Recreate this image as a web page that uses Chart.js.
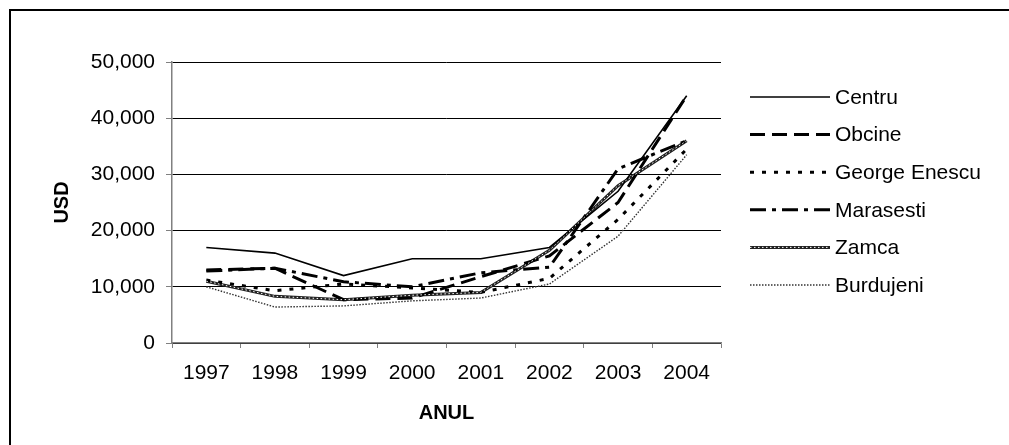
<!DOCTYPE html>
<html>
<head>
<meta charset="utf-8">
<script src="https://cdn.jsdelivr.net/npm/chart.js@4.4.1/dist/chart.umd.min.js"></script>
<style>
html,body{margin:0;padding:0;background:#fff;}
#wrap{position:relative;width:1009px;height:445px;}
</style>
</head>
<body>
<div id="wrap"><canvas id="c" width="1009" height="445"></canvas></div>
<script>
const years = ['1997','1998','1999','2000','2001','2002','2003','2004'];
const centru = [17000, 16000, 12000, 15000, 15000, 17000, 27000, 44000];
const obcine = [13000, 13300, 7700, 8000, 11800, 15500, 25000, 44000];
const georgeEnescu = [11200, 9300, 10500, 9800, 9000, 11500, 22000, 34500];
const marasesti = [12800, 13300, 10900, 10000, 12500, 13500, 31000, 36000];
const zamca = [11000, 8300, 7700, 8500, 9000, 16500, 28000, 36000];
const burdujeni = [10000, 6400, 6600, 7500, 8000, 10500, 19000, 33500];
const seriesNames = ['Centru','Obcine','George Enescu','Marasesti','Zamca','Burdujeni'];
const yTicks = [0, 10000, 20000, 30000, 40000, 50000];

const FONT = "'Liberation Sans', Arial, sans-serif";
const FS = 21;

const styles = [
  {c:'#000', w:1.6, d:[]},
  {c:'#000', w:3, d:[15,7]},
  {c:'#000', w:3, d:[4,8]},
  {c:'#000', w:3, d:[16,6,4,6]},
  {c:'#222', w:3, d:[]},
  {c:'#333', w:1.4, d:[1.5,1.5]}
];
const seriesData = [centru, obcine, georgeEnescu, marasesti, zamca, burdujeni];

const datasets = seriesNames.map((n,i)=>({
  label:n, data:seriesData[i], borderColor:styles[i].c, borderWidth:styles[i].w,
  borderDash:styles[i].d, pointRadius:0, fill:false, tension:0,
  borderCapStyle:'butt', borderJoinStyle:'miter'
}));

const decor = {
  id:'decor',
  afterDatasetsDraw(chart){
    const ctx = chart.ctx;
    const zi = seriesNames.indexOf('Zamca');
    const meta = chart.getDatasetMeta(zi);
    ctx.save();
    ctx.beginPath();
    meta.data.forEach((p,k)=>{ if(k===0) ctx.moveTo(p.x,p.y); else ctx.lineTo(p.x,p.y); });
    ctx.strokeStyle='#fff'; ctx.lineWidth=1; ctx.setLineDash([1.5,2.5]); ctx.stroke();
    ctx.restore();
  },
  afterDraw(chart){
    const ctx = chart.ctx;
    ctx.save();
    ctx.strokeStyle='#000'; ctx.lineWidth=2; ctx.setLineDash([]);
    ctx.strokeRect(10,10,1010,445);
    const x0=750, x1=830, tx=835, y0=97, dy=37.6;
    ctx.font = FS + "px " + FONT;
    ctx.textBaseline='middle'; ctx.textAlign='left';
    chart.data.datasets.forEach((ds,i)=>{
      const y = y0 + i*dy;
      ctx.beginPath(); ctx.moveTo(x0,y); ctx.lineTo(x1,y);
      ctx.strokeStyle=ds.borderColor; ctx.lineWidth=ds.borderWidth; ctx.lineCap='butt';
      ctx.setLineDash(ds.borderDash||[]); ctx.stroke();
      if(ds.label==='Zamca'){
        ctx.beginPath(); ctx.moveTo(x0,y); ctx.lineTo(x1,y);
        ctx.strokeStyle='#fff'; ctx.lineWidth=1; ctx.setLineDash([1.5,2.5]); ctx.stroke();
      }
      ctx.setLineDash([]);
      ctx.fillStyle='#000';
      ctx.fillText(ds.label, tx, y+1);
    });
    ctx.restore();
  }
};

new Chart(document.getElementById('c'), {
  type:'line',
  data:{labels:years, datasets},
  plugins:[decor],
  options:{
    responsive:false, animation:false,
    layout:{padding:{left:0, right:288, top:62, bottom:0}},
    plugins:{legend:{display:false}, tooltip:{enabled:false}},
    scales:{
      x:{
        offset:true,
        grid:{offset:true, drawOnChartArea:false, drawTicks:true, tickLength:5, color:'#808080', lineWidth:1},
        border:{color:'#808080', width:1.5},
        ticks:{color:'#000', font:{family:FONT, size:FS}, padding:13, maxRotation:0, autoSkip:false},
        title:{display:true, text:'ANUL', color:'#000', font:{family:FONT, size:20, weight:'bold'}, padding:{top:0,bottom:20}},
        afterFit(s){ s.height = 102; }
      },
      y:{
        min:0, max:50000,
        afterBuildTicks(s){ s.ticks = yTicks.map(v=>({value:v})); },
        grid:{color:'#000', lineWidth:1, drawTicks:true, tickLength:6, tickColor:'#808080'},
        border:{color:'#808080', width:1.5},
        ticks:{color:'#000', font:{family:FONT, size:FS}, padding:11,
          callback:(v)=>v.toLocaleString('en-US')},
        title:{display:true, text:'USD', color:'#000', font:{family:FONT, size:20, weight:'bold'}, padding:{top:50,bottom:0}},
        afterFit(s){ s.width = 172; }
      }
    }
  }
});
</script>
</body>
</html>
